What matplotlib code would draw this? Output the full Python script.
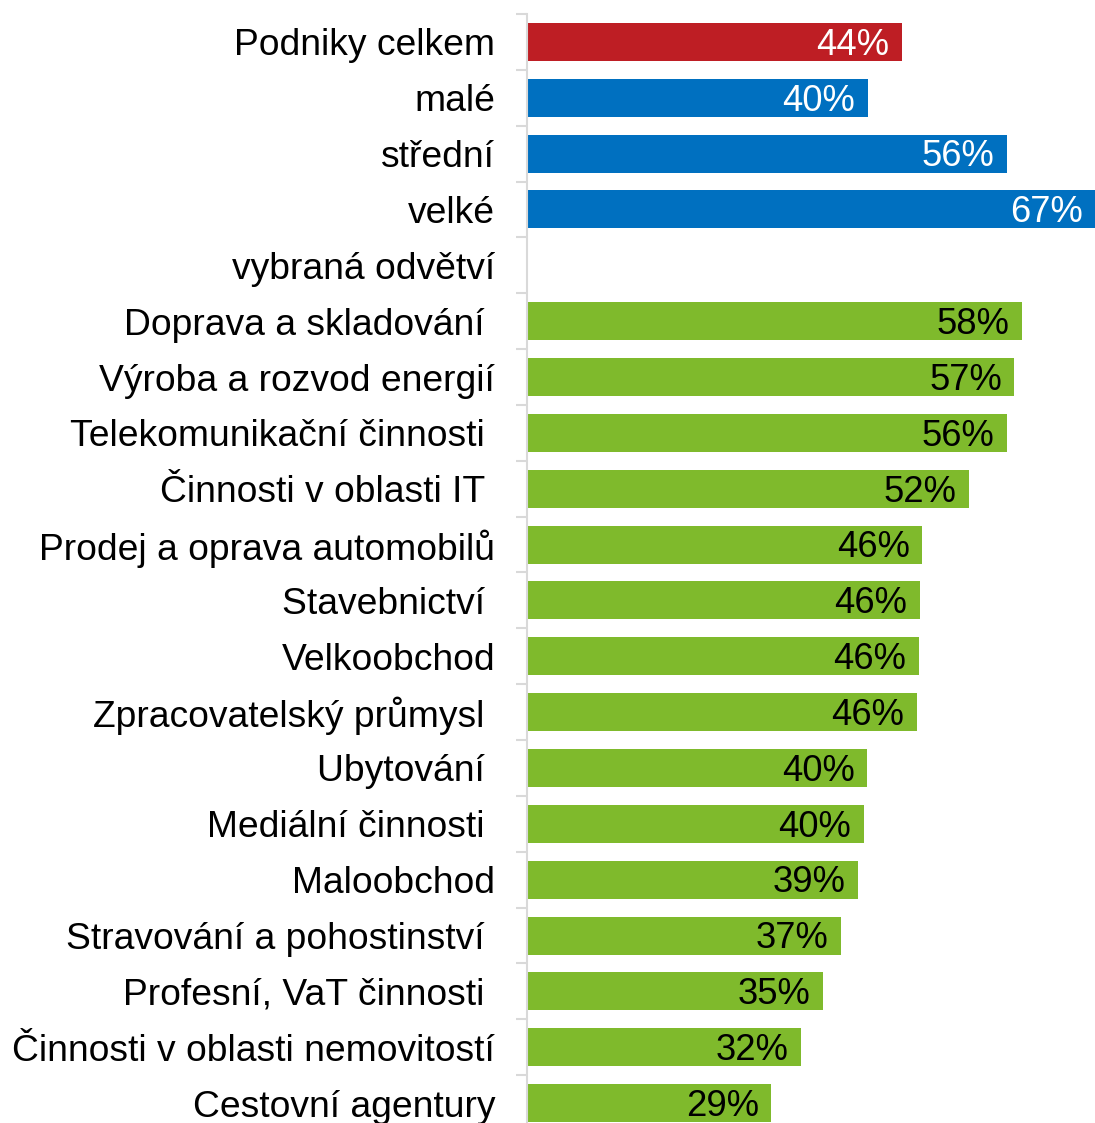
import matplotlib
matplotlib.use("Agg")
import matplotlib.pyplot as plt
from matplotlib.ticker import FixedLocator

categories = [
    "Podniky celkem", "malé", "střední", "velké", "vybraná odvětví",
    "Doprava a skladování ", "Výroba a rozvod energií", "Telekomunikační činnosti ",
    "Činnosti v oblasti IT ", "Prodej a oprava automobilů", "Stavebnictví ",
    "Velkoobchod", "Zpracovatelský průmysl ", "Ubytování ", "Mediální činnosti ",
    "Maloobchod", "Stravování a pohostinství ", "Profesní, VaT činnosti ",
    "Činnosti v oblasti nemovitostí", "Cestovní agentury",
]
values = [44.2, 40.2, 56.6, 67.0, None, 58.4, 57.5, 56.6, 52.1, 46.6, 46.3,
          46.2, 46.0, 40.1, 39.7, 39.0, 37.0, 34.9, 32.3, 28.8]
value_labels = ["44%", "40%", "56%", "67%", "", "58%", "57%", "56%", "52%", "46%",
                "46%", "46%", "46%", "40%", "40%", "39%", "37%", "35%", "32%", "29%"]
groups = ["total", "size", "size", "size", "none"] + ["sector"] * 15

colors = {"total": "#BE1E24", "size": "#0070C0", "sector": "#7FBA2C", "none": "none"}
text_colors = {"total": "white", "size": "white", "sector": "black", "none": "black"}

plt.rcParams["font.family"] = ["Liberation Sans", "DejaVu Sans"]

W, H = 1095, 1123
fig = plt.figure(figsize=(W / 100, H / 100), dpi=100)
n = len(categories)
top_px, pitch = 14, 55.85
bottom_px = top_px + pitch * n
ax = fig.add_axes([527 / W, 1 - bottom_px / H, (W - 527) / W, (bottom_px - top_px) / H])

ypos = list(range(n))
for i, (v, g) in enumerate(zip(values, groups)):
    if v is None:
        continue
    ax.barh(i, v, height=0.68, color=colors[g], left=0)
    ax.annotate(value_labels[i], xy=(v, i), xytext=(-9, -9.2), textcoords="offset points",
                ha="right", va="baseline", fontsize=26.2, color=text_colors[g])

ax.set_xlim(0, 67.0)
ax.set_ylim(n - 0.5, -0.5)
ax.set_yticks(ypos)
ax.set_yticklabels(categories, fontsize=26.8)
ax.tick_params(axis="y", which="major", length=0, pad=23)
ax.yaxis.set_minor_locator(FixedLocator([i - 0.5 for i in range(n + 1)]))
ax.tick_params(axis="y", which="minor", length=8, width=1.5, color="#D9D9D9")
ax.set_xticks([])
for s in ["top", "right", "bottom"]:
    ax.spines[s].set_visible(False)
ax.spines["left"].set_color("#D9D9D9")
ax.spines["left"].set_linewidth(1.5)
ax.set_facecolor("none")

fig.savefig("out.png", dpi=100)
